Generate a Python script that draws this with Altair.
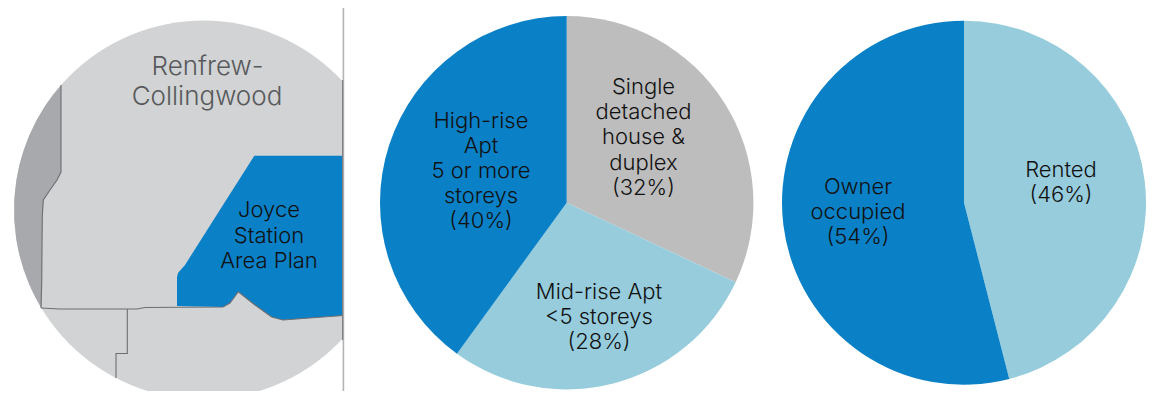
import math
import altair as alt
import pandas as pd

# ---- pie values
housing_labels = ["Single detached house & duplex", "Mid-rise Apt <5 storeys", "High-rise Apt 5 or more storeys"]
housing_values = [32, 28, 40]
tenure_labels = ["Rented", "Owner occupied"]
tenure_values = [46, 54]

BLUE = "#0A80C6"
LIGHT = "#96CCDC"
GREY = "#BDBDBD"
MAP = "#D1D3D4"
MAP_DARK = "#A7A9AC"
EDGE = "#6D6E71"
FONT = "Inter"

# ---- map outlines
west_y = [85, 95, 105, 120, 135, 150, 165, 172, 180, 190, 200, 220, 240, 255, 270, 285, 297, 308]
west_outer = [61.1, 52.9, 45.7, 36.7, 29.5, 23.8, 19.4, 18, 16.4, 15.3, 14.3, 14.3, 16.4, 19.4, 23.8, 29.5, 35.2, 41.3]
west_inner = [61.1, 61, 61, 61, 61, 61, 61, 61, 57, 50, 43.5, 42.3, 42.1, 42, 41.9, 41.7, 41.4, 41.3]

plan_x = [177, 178, 185, 223, 230, 238.3, 254.3, 255, 271.7, 283, 343]
plan_top = [277, 273, 265, 205, 194, 181, 155.7, 155.7, 155.7, 155.7, 155.7]
plan_bottom = [306, 306, 306.3, 307, 303, 291.7, 304.5, 305, 317, 320, 315.5]

border_west_x = [61, 61, 57, 50, 43.3, 42.3, 41.7, 41]
border_west_y = [85, 172, 180, 190, 200, 216, 283, 308]
border_south_x = [41, 60, 127, 137, 145, 223, 230, 238.3, 254.3, 271.7, 283, 343]
border_south_y = [308, 309, 309, 309, 307.5, 307, 303, 291.7, 304.5, 317, 320, 315.5]
border_step_x = [127.3, 127.3, 116, 116]
border_step_y = [309, 353.5, 353.5, 378]

# ---- text
texts = [
    ("Renfrew-", 207.5, 75, "#58595B", 26),
    ("Collingwood", 207, 105, "#58595B", 26),
    ("Joyce", 269, 217, "#111111", 22),
    ("Station", 269, 243, "#111111", 22),
    ("Area Plan", 269, 268, "#111111", 22),
    ("High-rise", 481, 128, "#111111", 22),
    ("Apt", 481, 153, "#111111", 22),
    ("5 or more", 481, 178, "#111111", 22),
    ("storeys", 481, 203, "#111111", 22),
    ("(40%)", 481, 228, "#111111", 22),
    ("Single", 643.5, 94, "#111111", 22),
    ("detached", 643.5, 119, "#111111", 22),
    ("house &", 643.5, 144, "#111111", 22),
    ("duplex", 643.5, 170, "#111111", 22),
    ("(32%)", 643.5, 195, "#111111", 22),
    ("Mid-rise Apt", 599, 299, "#111111", 22),
    ("<5 storeys", 599, 324, "#111111", 22),
    ("(28%)", 599, 349, "#111111", 22),
    ("Rented", 1061, 177, "#111111", 22),
    ("(46%)", 1061, 202, "#111111", 22),
    ("Owner", 858, 194, "#111111", 22),
    ("occupied", 858, 219, "#111111", 22),
    ("(54%)", 858, 244, "#111111", 22),
]

W, H = 1138, 383
xs = alt.Scale(domain=[8, 8 + W], range=[0, W], nice=False, zero=False)
ys = alt.Scale(domain=[8 + H, 8], range=[H, 0], nice=False, zero=False)
X = lambda f: alt.X(f, type="quantitative", scale=xs, axis=None, stack=None)
Y = lambda f: alt.Y(f, type="quantitative", scale=ys, axis=None, stack=None)
ts = alt.Scale(domain=[0, 100], range=[0, 2 * math.pi])


def pie(labels, values, colors, cx, cy, r):
    df = pd.DataFrame({"label": labels, "v": values, "c": colors, "i": range(len(labels)), "cx": cx, "cy": cy})
    return alt.Chart(df).mark_arc(radius=r).encode(
        x=X("cx"), y=Y("cy"),
        theta=alt.Theta("v:Q", stack=True, scale=ts),
        order=alt.Order("i:Q"),
        color=alt.Color("c:N", scale=None),
    )


def border(px, py):
    df = pd.DataFrame({"x": px, "y": py, "i": range(len(px))})
    return alt.Chart(df).mark_line(color=EDGE, strokeWidth=1.1).encode(x=X("x"), y=Y("y"), order="i:Q")


circle = pie(["district"], [100], [MAP], 203.5, 210, 189.5)
west = alt.Chart(pd.DataFrame({"y": west_y, "a": west_outer, "b": west_inner})).mark_area(
    orient="horizontal", color=MAP_DARK
).encode(y=Y("y"), x=X("a"), x2="b:Q")
plan = alt.Chart(pd.DataFrame({"x": plan_x, "t": plan_top, "b": plan_bottom})).mark_area(color=BLUE).encode(
    x=X("x"), y=Y("t"), y2="b:Q"
)
mask = alt.Chart(pd.DataFrame({"x": [343], "x2": [400], "y": [8], "y2": [391]})).mark_rect(color="white").encode(
    x=X("x"), x2="x2:Q", y=Y("y"), y2="y2:Q"
)
rule_light = alt.Chart(pd.DataFrame({"x": [343.4], "y": [8], "y2": [391]})).mark_rule(
    color="#B4B4B4", strokeWidth=1.6
).encode(x=X("x"), y=Y("y"), y2="y2:Q")
rule_dark = alt.Chart(pd.DataFrame({"x": [342.6], "y": [80], "y2": [340]})).mark_rule(
    color="#808285", strokeWidth=1.2
).encode(x=X("x"), y=Y("y"), y2="y2:Q")

housing = pie(housing_labels, housing_values, [GREY, LIGHT, BLUE], 566.7, 202.7, 186.7)
tenure = pie(tenure_labels, tenure_values, [LIGHT, BLUE], 964, 202.7, 182)

tdf = pd.DataFrame(texts, columns=["t", "x", "y", "c", "s"])
labels = alt.Chart(tdf).mark_text(font=FONT, fontWeight=300, align="center", baseline="alphabetic").encode(
    x=X("x"), y=Y("y"), text="t:N",
    color=alt.Color("c:N", scale=None),
    size=alt.Size("s:Q", scale=None),
)

chart = alt.layer(
    circle, west, plan,
    border(border_west_x, border_west_y), border(border_south_x, border_south_y), border(border_step_x, border_step_y),
    mask, rule_light, rule_dark, housing, tenure, labels,
).properties(
    width=W, height=H, padding=0, background="white",
    autosize=alt.AutoSizeParams(type="none", contains="padding"),
).configure_view(stroke=None)

chart.save("out.html", embed_options={"renderer": "svg", "actions": False})
